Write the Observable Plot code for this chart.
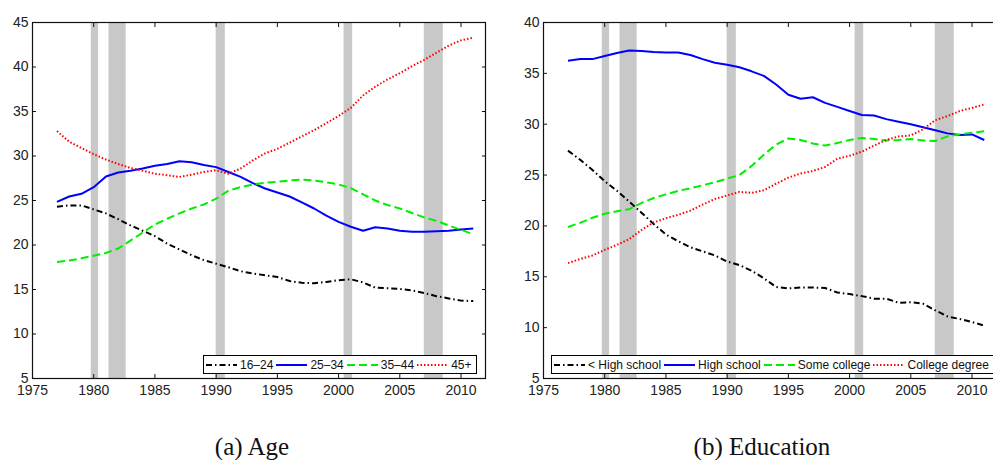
<!DOCTYPE html>
<html><head><meta charset="utf-8">
<script src="https://cdn.jsdelivr.net/npm/d3@7"></script>
<script src="https://cdn.jsdelivr.net/npm/@observablehq/plot@0.6"></script>
<style>
html,body{margin:0;padding:0;background:#fff;overflow:hidden;}
#wrap{position:relative;width:993px;height:460px;overflow:hidden;background:#fff;}
.panel{position:absolute;top:0;}
.legend{position:absolute;top:355px;height:17px;border:1px solid #000;background:#fff;display:flex;align-items:center;padding:0 2px;font-family:"Liberation Sans",Arial,sans-serif;font-size:12px;color:#111;white-space:nowrap;}
.legend .item{display:flex;align-items:center;}
.legend svg{display:block;margin-right:3px;}
.legend span{margin-right:3px;}
.caption{position:absolute;top:434px;font-family:"Liberation Serif","Times New Roman",serif;font-size:25px;line-height:25px;white-space:nowrap;transform:translateX(-50%);color:#111;}
</style></head><body><div id="wrap"></div>
<script>
// ---- data ----
const years = [1977,1978,1979,1980,1981,1982,1983,1984,1985,1986,1987,1988,1989,1990,1991,1992,1993,1994,1995,1996,1997,1998,1999,2000,2001,2002,2003,2004,2005,2006,2007,2008,2009,2010,2011];

const age1624 = [24.3,24.45,24.45,24.0,23.55,22.9,22.2,21.6,21.0,20.15,19.5,18.85,18.3,17.9,17.5,17.05,16.8,16.6,16.4,15.95,15.75,15.7,15.85,16.05,16.15,15.8,15.2,15.15,15.05,14.9,14.6,14.25,14.0,13.75,13.7];
const age2534 = [24.85,25.45,25.75,26.5,27.7,28.15,28.35,28.6,28.9,29.1,29.4,29.3,29.0,28.75,28.2,27.65,26.95,26.35,25.9,25.45,24.8,24.1,23.3,22.6,22.05,21.6,22.0,21.85,21.6,21.5,21.5,21.55,21.6,21.75,21.85];
const age3544 = [18.1,18.25,18.5,18.8,19.1,19.6,20.5,21.4,22.3,22.95,23.55,24.1,24.55,25.2,26.1,26.5,26.8,27.0,27.1,27.25,27.35,27.25,27.05,26.8,26.4,25.7,25.0,24.5,24.1,23.6,23.1,22.7,22.2,21.7,21.2];
const age45 = [32.8,31.6,30.9,30.2,29.6,29.1,28.65,28.35,28.0,27.85,27.65,27.9,28.2,28.4,28.0,28.6,29.5,30.3,30.8,31.5,32.2,32.9,33.7,34.5,35.4,36.8,37.8,38.6,39.3,40.1,40.8,41.6,42.4,43.0,43.3];

const eduLessHS = [27.4,26.5,25.5,24.4,23.45,22.4,21.3,20.2,19.15,18.5,17.9,17.5,17.1,16.5,16.15,15.6,14.85,14.0,13.85,13.95,13.95,13.9,13.45,13.3,13.1,12.85,12.85,12.45,12.5,12.35,11.7,11.1,10.85,10.55,10.2];
const eduHS = [36.25,36.4,36.4,36.7,37.0,37.25,37.2,37.1,37.05,37.05,36.8,36.4,36.05,35.85,35.6,35.2,34.75,33.9,32.9,32.5,32.65,32.1,31.7,31.3,30.9,30.85,30.5,30.25,30.0,29.7,29.4,29.1,28.95,29.0,28.45];
const eduSomeCollege = [19.9,20.3,20.8,21.2,21.45,21.65,22.25,22.75,23.1,23.45,23.7,24.0,24.3,24.65,25.0,25.9,27.0,28.0,28.6,28.45,28.1,27.9,28.15,28.45,28.65,28.55,28.4,28.45,28.55,28.4,28.35,28.8,29.0,29.15,29.3];
const eduCollege = [16.35,16.75,17.1,17.65,18.15,18.7,19.6,20.35,20.75,21.1,21.5,22.1,22.65,23.0,23.35,23.25,23.5,24.15,24.75,25.15,25.4,25.8,26.6,26.9,27.3,27.9,28.45,28.8,28.9,29.5,30.4,30.8,31.3,31.6,31.95];

const recessionStart = [1979.8,1981.25,1990.0,2000.45,2007.0];
const recessionEnd   = [1980.4,1982.65,1990.75,2001.15,2008.55];

const xTicks = [1975,1980,1985,1990,1995,2000,2005,2010];
const ageYTicks = [5,10,15,20,25,30,35,40,45];
const eduYTicks = [5,10,15,20,25,30,35,40];
const ageLabels = ["16\u201324","25\u201334","35\u201344","45+"];
const eduLabels = ["< High school","High school","Some college","College degree"];
const captions = ["(a) Age","(b) Education"];

// ---- styles ----
const colors = ["#000000","#0000ff","#00ee00","#ff0000"];
const dashes = ["6,3,1.5,3", null, "8,4", "1.5,2"];
const FONT = '"Liberation Sans", Arial, sans-serif';

const recessions = recessionStart.map((s,i)=>({start:s, end:recessionEnd[i]}));
const wrap = document.getElementById("wrap");

function panel({left, width, marginLeft, marginRight, yDomain, yTicks, series, labels, legendLeft, captionX, caption}) {
  const lineMarks = series.map((vals, k) => Plot.line(
    years.map((yr,i)=>({year:yr, value:vals[i]})),
    {x:"year", y:"value", stroke:colors[k], strokeWidth:2, strokeDasharray:dashes[k], strokeLinecap:"butt"}
  ));
  const chart = Plot.plot({
    width, height:400, marginLeft, marginRight, marginTop:22, marginBottom:22,
    x:{domain:[1975,2012]},
    y:{domain:yDomain},
    style:{fontSize:"14px", fontFamily:FONT, color:"#222", background:"transparent", overflow:"visible"},
    marks:[
      Plot.rect(recessions, {x1:"start", x2:"end", fill:"#c8c8c8"}),
      ...lineMarks,
      Plot.frame({stroke:"#111", strokeWidth:1.2}),
      Plot.axisX({ticks:xTicks, tickSize:0, tickPadding:7, tickFormat:d=>String(d), label:null, fontSize:14, fontFamily:FONT, fill:"#222"}),
      Plot.axisY({ticks:yTicks, tickSize:0, tickPadding:4, tickFormat:d=>String(d), label:null, fontSize:14, fontFamily:FONT, fill:"#222"}),
      Plot.axisX({ticks:xTicks, anchor:"bottom", tickSize:4, dy:-4, tickFormat:()=>"", label:null, stroke:"#111"}),
      Plot.axisX({ticks:xTicks, anchor:"top", tickSize:4, dy:4, tickFormat:()=>"", label:null, stroke:"#111"}),
      Plot.axisY({ticks:yTicks, anchor:"left", tickSize:4, dx:4, tickFormat:()=>"", label:null, stroke:"#111"}),
      Plot.axisY({ticks:yTicks, anchor:"right", tickSize:4, dx:-4, tickFormat:()=>"", label:null, stroke:"#111"})
    ]
  });
  chart.classList.add("panel");
  chart.style.left = left + "px";
  wrap.appendChild(chart);

  const leg = document.createElement("div");
  leg.className = "legend";
  leg.style.left = legendLeft + "px";
  labels.forEach((lab, k) => {
    const item = document.createElement("div");
    item.className = "item";
    const ns = "http://www.w3.org/2000/svg";
    const s = document.createElementNS(ns, "svg");
    s.setAttribute("width", 31); s.setAttribute("height", 10);
    const l = document.createElementNS(ns, "line");
    l.setAttribute("x1", 0); l.setAttribute("x2", 31); l.setAttribute("y1", 5); l.setAttribute("y2", 5);
    l.setAttribute("stroke", colors[k]); l.setAttribute("stroke-width", 2);
    if (dashes[k]) l.setAttribute("stroke-dasharray", dashes[k]);
    s.appendChild(l);
    const t = document.createElement("span");
    t.textContent = lab;
    item.appendChild(s); item.appendChild(t);
    leg.appendChild(item);
  });
  wrap.appendChild(leg);

  const cap = document.createElement("div");
  cap.className = "caption";
  cap.style.left = captionX + "px";
  cap.textContent = caption;
  wrap.appendChild(cap);
}

panel({left:0, width:490, marginLeft:32, marginRight:5, yDomain:[5,45], yTicks:ageYTicks,
  series:[age1624, age2534, age3544, age45], labels:ageLabels, legendLeft:203, captionX:252, caption:captions[0]});
panel({left:493, width:507, marginLeft:50, marginRight:4, yDomain:[5,40], yTicks:eduYTicks,
  series:[eduLessHS, eduHS, eduSomeCollege, eduCollege], labels:eduLabels, legendLeft:551, captionX:762, caption:captions[1]});
</script></body></html>
